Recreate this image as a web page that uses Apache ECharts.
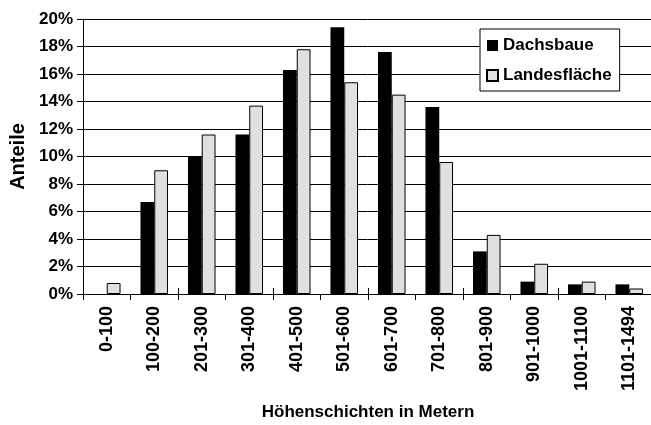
<!DOCTYPE html>
<html>
<head>
<meta charset="utf-8">
<script src="https://cdn.jsdelivr.net/npm/echarts@6/dist/echarts.min.js"></script>
<style>
  html, body { margin: 0; padding: 0; background: #fff; }
  #chart { width: 651px; height: 425px; }
</style>
</head>
<body>
<div id="chart"></div>
<script>
var categories = ["0-100", "100-200", "201-300", "301-400", "401-500", "501-600",
  "601-700", "701-800", "801-900", "901-1000", "1001-1100", "1101-1494"];
var dachsbaue = [0, 6.7, 10.0, 11.6, 16.3, 19.4, 17.6, 13.6, 3.1, 0.9, 0.7, 0.7];
var landesflaeche = [0.8, 9.0, 11.6, 13.7, 17.8, 15.4, 14.5, 9.6, 4.3, 2.2, 0.9, 0.4];
var yTicks = [0, 20, 2]; // min, max, step

var font = "Liberation Sans";
var chart = echarts.init(document.getElementById("chart"));

var labelFont = {
  fontFamily: font,
  fontWeight: "bold",
  fontSize: 17,
  color: "#000",
};

var option = {
  animation: false,
  backgroundColor: "#fff",
  grid: {
    left: 83,
    right: -2,
    top: 19,
    bottom: 131,
    outerBoundsMode: "none",
  },
  legend: {
    left: 480,
    top: 29,
    orient: "vertical",
    backgroundColor: "#fff",
    borderColor: "#000",
    borderWidth: 1,
    padding: [8, 8, 7, 6],
    itemGap: 13,
    itemWidth: 11,
    itemHeight: 11,
    icon: "rect",
    textStyle: labelFont,
    data: ["Dachsbaue", "Landesfläche"],
  },
  xAxis: [
    {
      type: "category",
      data: categories,
      name: "Höhenschichten in Metern",
      nameLocation: "middle",
      nameGap: 110,
      nameTextStyle: labelFont,
      axisLine: { lineStyle: { color: "#000", width: 1 } },
      axisTick: { show: true, length: 6, lineStyle: { color: "#000" } },
      axisLabel: Object.assign({ rotate: 90, margin: 12, interval: 0 }, labelFont, { fontSize: 18 }),
    },
    {
      // inner half of the crossing ticks
      type: "category",
      data: categories,
      position: "bottom",
      axisLine: { show: false },
      axisTick: { show: true, inside: true, length: 6, lineStyle: { color: "#000" } },
      axisLabel: { show: false },
      splitLine: { show: false },
    },
  ],
  yAxis: [
    {
      type: "value",
      min: yTicks[0],
      max: yTicks[1],
      interval: yTicks[2],
      name: "Anteile",
      nameLocation: "middle",
      nameRotate: 90,
      nameGap: 55,
      nameTextStyle: {
        fontFamily: font,
        fontWeight: "bold",
        fontSize: 20,
        color: "#000",
      },
      axisLine: { show: true, lineStyle: { color: "#000", width: 1 } },
      axisTick: { show: true, length: 6, lineStyle: { color: "#000" } },
      axisLabel: Object.assign({ formatter: "{value}%", margin: 10 }, labelFont),
      splitLine: { show: true, lineStyle: { color: "#000", width: 1 } },
    },
    {
      type: "value",
      min: yTicks[0],
      max: yTicks[1],
      interval: yTicks[2],
      position: "left",
      axisLine: { show: false },
      axisTick: { show: true, inside: true, length: 3, lineStyle: { color: "#000" } },
      axisLabel: { show: false },
      splitLine: { show: false },
    },
  ],
  series: [
    {
      name: "Dachsbaue",
      type: "bar",
      data: dachsbaue,
      barGap: "0%",
      barCategoryGap: "42%",
      itemStyle: { color: "#000" },
    },
    {
      name: "Landesfläche",
      type: "bar",
      data: landesflaeche,
      barGap: "0%",
      barCategoryGap: "42%",
      itemStyle: { color: "#e0e0e0", borderColor: "#000", borderWidth: 1 },
    },
  ],
};
chart.setOption(option);
</script>
</body>
</html>
